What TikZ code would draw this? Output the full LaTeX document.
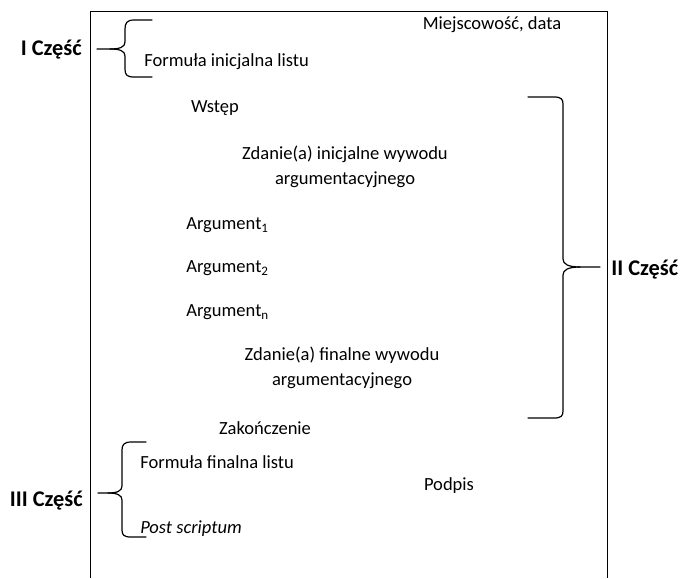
\documentclass[tikz,border=0pt]{standalone}
\usepackage{fontspec}
\setmainfont{Carlito}
\begin{document}
\begin{tikzpicture}[x=0.75pt,y=-0.75pt,
  txt/.style={inner sep=0pt,font=\fontsize{13.9}{17}\selectfont},
  part/.style={inner sep=0pt,font=\fontsize{16.8}{20}\selectfont\bfseries},
  brace/.style={line width=0.9pt,line cap=round,line join=round},
  frame/.style={line width=0.75pt}]
\useasboundingbox (0,0) rectangle (685,578);
% page frame (open at the bottom)
\coordinate (bl) at (90,578);
\coordinate (tl) at (90,11);
\coordinate (tr) at (607,11);
\coordinate (br) at (607,578);
\draw[frame] (bl) -- (tl) -- (tr) -- (br);

% texts
\node[txt] (miej) at (492,25) {Miejscowość, data};
\node[txt,anchor=west] (finic) at (144,62) {Formuła inicjalna listu};
\node[txt] (wstep) at (215,108) {Wstęp};
\node[txt,align=center] (zinic) at (345,167) {Zdanie(a) inicjalne wywodu\\[2pt]argumentacyjnego};
\node[txt,anchor=west] (arg1) at (186,225) {Argument\textsubscript{1}};
\node[txt,anchor=west] (arg2) at (186,268) {Argument\textsubscript{2}};
\node[txt,anchor=west] (argn) at (186,312) {Argument\textsubscript{n}};
\node[txt,align=center] (zfin) at (342,368) {Zdanie(a) finalne wywodu\\[2pt]argumentacyjnego};
\node[txt] (zak) at (265,428) {Zakończenie};
\node[txt,anchor=west] (ffin) at (140,462) {Formuła finalna listu};
\node[txt] (podpis) at (449,486) {Podpis};
\node[txt,anchor=west] (ps) at (140,529) {\itshape Post scriptum};

\node[part,anchor=east] (p1) at (82,50) {I Część};
\node[part,anchor=west] (p2) at (611,270) {II Część};
\node[part,anchor=east] (p3) at (83,501) {III Część};

% brace I
\draw[brace] (152,20) -- (134,20) .. controls (127,20) and (125,23) .. (125,29)
  -- (125,42) .. controls (125,47) and (120,49) .. (110,49) -- (97,49);
\draw[brace] (110,49) .. controls (120,49) and (125,51) .. (125,56)
  -- (125,69) .. controls (125,75) and (127,77) .. (134,77) -- (152,77);

% brace II
\draw[brace] (528,97) -- (554,97) .. controls (561,97) and (563,99) .. (563,104)
  -- (563,259) .. controls (563,264) and (568,267) .. (580,267) -- (600,267);
\draw[brace] (580,267) .. controls (568,267) and (563,270) .. (563,275)
  -- (563,411) .. controls (563,416) and (561,418) .. (554,418) -- (528,418);

% brace III
\draw[brace] (146,442) -- (131,442) .. controls (124,442) and (122,445) .. (122,450)
  -- (122,486) .. controls (122,491) and (117,493) .. (108,493) -- (98,493);
\draw[brace] (108,493) .. controls (117,493) and (122,495) .. (122,500)
  -- (122,530) .. controls (122,535) and (124,537) .. (131,537) -- (146,537);
\end{tikzpicture}
\end{document}
